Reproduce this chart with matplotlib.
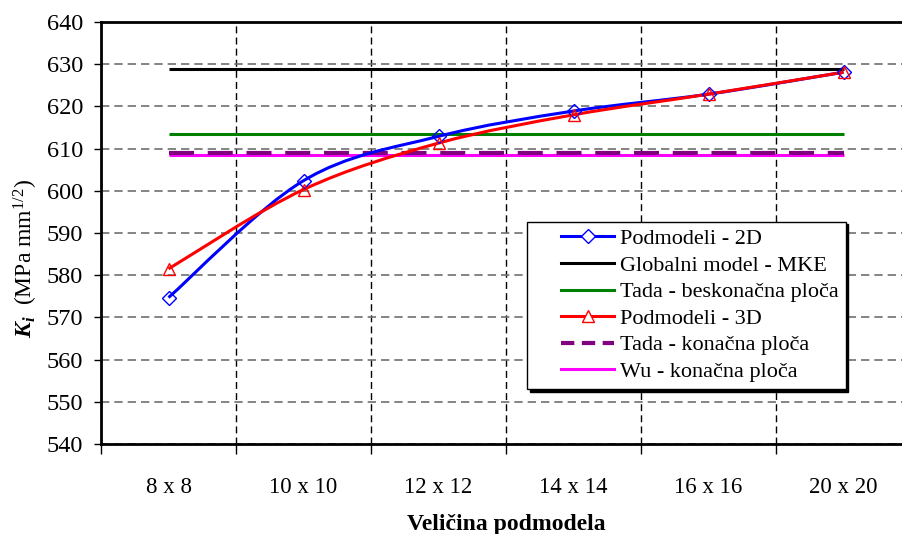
import numpy as np
import matplotlib
matplotlib.use("Agg")
import matplotlib.pyplot as plt
from matplotlib.path import Path
from matplotlib.patches import PathPatch
from matplotlib.lines import Line2D
from matplotlib.legend_handler import HandlerLine2D

plt.rcParams['font.family'] = ['Liberation Serif', 'DejaVu Serif']
plt.rcParams['mathtext.fontset'] = 'custom'
plt.rcParams['mathtext.rm'] = 'Liberation Serif'
plt.rcParams['mathtext.it'] = 'Liberation Serif:italic'
plt.rcParams['mathtext.bf'] = 'Liberation Serif:bold'
plt.rcParams['mathtext.bfit'] = 'Liberation Serif:italic:bold'

categories = ["8 x 8", "10 x 10", "12 x 12", "14 x 14", "16 x 16", "20 x 20"]
podmodeli_2d = [574.7, 602.4, 612.9, 618.9, 622.9, 628.1]
podmodeli_3d = [581.5, 600.3, 611.3, 618.0, 622.9, 628.1]
globalni_mke = 628.9
tada_beskonacna = 613.5
tada_konacna = 609.0
wu_konacna = 608.4


def smooth_path(x, y):
    # excel-like smoothed line, cubic bezier through the points
    x = np.asarray(x, float)
    y = np.asarray(y, float)
    px = np.concatenate(([x[0]], x, [x[-1]]))
    py = np.concatenate(([y[0]], y, [y[-1]]))
    verts = [(x[0], y[0])]
    codes = [Path.MOVETO]
    for i in range(len(x) - 1):
        j = i + 1
        c1 = (px[j] + (px[j + 1] - px[j - 1]) / 6, py[j] + (py[j + 1] - py[j - 1]) / 6)
        c2 = (px[j + 1] - (px[j + 2] - px[j]) / 6, py[j + 1] - (py[j + 2] - py[j]) / 6)
        verts += [c1, c2, (x[i + 1], y[i + 1])]
        codes += [Path.CURVE4] * 3
    return Path(verts, codes)


fig = plt.figure(figsize=(9.02, 5.34), dpi=100)
ax = fig.add_axes([101 / 902, 90 / 534, 810 / 902, 422 / 534])

xc = np.arange(len(categories)) + 0.5
lw = 2.2
purple_dash = (0, (6, 3.3))

ax.hlines(globalni_mke, xc[0], xc[-1], color='black', lw=lw, zorder=3)
ax.hlines(tada_beskonacna, xc[0], xc[-1], color='#008000', lw=lw, zorder=3)
ax.hlines(wu_konacna, xc[0], xc[-1], color='#ff00ff', lw=lw, zorder=3)
ax.hlines(tada_konacna, xc[0], xc[-1], color='#800080', lw=lw + 0.8,
          linestyles=purple_dash, zorder=3)

ax.add_patch(PathPatch(smooth_path(xc, podmodeli_2d), fill=False, ec='#0000ff', lw=lw, zorder=4))
ax.plot(xc, podmodeli_2d, ls='none', marker='D', ms=7, mfc='none', mec='#0000ff', mew=1.0, zorder=5)
ax.add_patch(PathPatch(smooth_path(xc, podmodeli_3d), fill=False, ec='#ff0000', lw=lw, zorder=4))
ax.plot(xc, podmodeli_3d, ls='none', marker='^', ms=9, mfc='none', mec='#ff0000', mew=1.0, zorder=5)

ax.set_xlim(0, 6)
ax.set_ylim(540, 640)
ax.set_yticks(np.arange(540, 641, 10))
ax.set_xticks(np.arange(0, 7))
ax.set_xticklabels([])
ax.set_xticks(xc, minor=True)
ax.set_xticklabels(categories, minor=True)
ax.tick_params(axis='x', which='major', length=7, width=1, direction='out')
ax.tick_params(axis='x', which='minor', length=0, pad=24, labelsize=16.5)
ax.tick_params(axis='y', length=5, width=1, direction='out', pad=8, labelsize=17.5)

ax.grid(axis='y', color='#707070', ls=(0, (5, 3)), lw=1.2)
ax.grid(axis='x', which='major', color='black', ls=(0, (5, 3)), lw=1.0)
ax.set_axisbelow(True)

for s in ['left', 'bottom', 'top']:
    ax.spines[s].set_linewidth(2)
ax.spines['right'].set_visible(False)

ax.set_xlabel("Veličina podmodela", fontsize=17, fontweight='bold', labelpad=11)
ax.set_ylabel(r"$\mathbfit{K_i}$  (MPa mm$^{1/2}$)", fontsize=17)
ax.yaxis.set_label_coords(-0.075, 0.44)

handles = [
    Line2D([], [], color='#0000ff', lw=lw, marker='D', ms=7, mfc='white', mec='#0000ff', mew=1.0),
    Line2D([], [], color='black', lw=lw),
    Line2D([], [], color='#008000', lw=lw),
    Line2D([], [], color='#ff0000', lw=lw, marker='^', ms=9, mfc='white', mec='#ff0000', mew=1.0),
    Line2D([], [], color='#800080', lw=lw + 0.8, ls=(0, (3.2, 1.8))),
    Line2D([], [], color='#ff00ff', lw=lw),
]
labels = ["Podmodeli - 2D", "Globalni model - MKE", "Tada - beskonačna ploča",
          "Podmodeli - 3D", "Tada - konačna ploča", "Wu - konačna ploča"]
leg = ax.legend(handles, labels, loc='upper left', bbox_to_anchor=(0.526, 0.527),
                fontsize=16, frameon=True, fancybox=False, edgecolor='black',
                framealpha=1, shadow={'color': 'black', 'alpha': 1}, borderpad=0.32,
                labelspacing=0.27, handlelength=3.6, handletextpad=0.25, borderaxespad=0,
                handler_map={Line2D: HandlerLine2D(xpad=1.2)})
leg.get_frame().set_linewidth(1.0)
leg.set_zorder(10)

fig.savefig("out.png", dpi=100)
